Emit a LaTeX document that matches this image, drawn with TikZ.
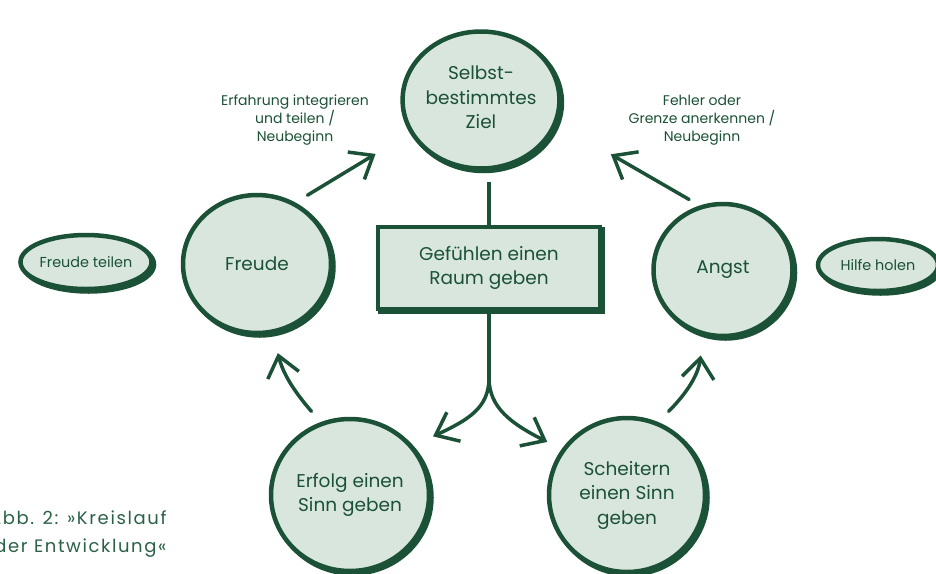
\documentclass[tikz,border=0pt]{standalone}
\usepackage{fontspec}
\setmainfont{Poppins}
\usetikzlibrary{arrows.meta,shapes.geometric}
\definecolor{Forest}{HTML}{1B5136}
\definecolor{Mint}{HTML}{D8E6DE}
\definecolor{Caption}{HTML}{2B6147}
\tikzset{
  brush/.style={draw=Forest,fill=Mint,line width=4.5,text=Forest,
    preaction={draw=Forest,line width=4.5,transform canvas={shift={(2.5,2.5)}}}},
  bubble/.style={ellipse,brush,align=center,inner sep=0pt,font=\fontsize{18.5}{24.5}\selectfont},
  pill/.style={ellipse,brush,inner sep=0pt,font=\fontsize{14.4}{16}\selectfont},
  flow/.style={Forest,line width=3.5,line cap=round,-{Straight Barb[length=20,width=32,line width=3.5]}},
  stem/.style={Forest,line width=3.5},
  note/.style={Forest,align=center,font=\fontsize{14}{18}\selectfont}
}
\begin{document}
\begin{tikzpicture}[x=1pt,y=-1pt]
  \useasboundingbox(0,0)rectangle(936,573);
  % centre and the two ways out
  \node[bubble,minimum width=134,minimum height=137](ziel)at(481,100){Selbst-\\bestimmtes\\Ziel\vphantom{g}};
  \node[rectangle,brush,minimum width=222,minimum height=82,align=center,
        font=\fontsize{18.5}{24}\selectfont](raum)at(489,268){Gefühlen einen\\Raum geben};
  \node[bubble,minimum width=148,minimum height=138](freude)at(257,264){Freude};
  \node[bubble,minimum width=139,minimum height=132](angst)at(723,270){Angst};
  \node[bubble,minimum width=158,minimum height=152](erfolg)at(350,495){Erfolg einen\\Sinn geben};
  \node[bubble,minimum width=156,minimum height=154](scheitern)at(627,495){Scheitern\\einen Sinn\\geben};
  \node[pill,minimum width=128,minimum height=54](teilen)at(86,262){Freude teilen};
  \node[pill,minimum width=120,minimum height=52](hilfe)at(878,265){Hilfe holen};
  % labels
  \node[note](erfahrung)at(295,120){Erfahrung integrieren\\und teilen /\\Neubeginn};
  \node[note](fehler)at(702,120){Fehler oder\\Grenze anerkennen /\\Neubeginn};
  \node[Caption,anchor=east,align=right,font=\fontsize{18}{28}\selectfont\addfontfeatures{LetterSpace=9}](abb)at(170,534){Abb. 2: »Kreislauf\\der Entwicklung«};
  % connectors
  \coordinate(fork)at(489,378);
  \draw[stem,shorten >=11](raum.north)--(raum.north|-ziel.south);
  \draw[stem](raum.south)--(fork);
  \draw[flow,shorten >=22](fork)..controls(489,408)and(468,420)..(erfolg.38);
  \draw[flow,shorten >=16](fork)..controls(489,408)and(512,424)..(scheitern.145);
  \draw[flow,shorten <=14,shorten >=40](freude.58)--(ziel.205);
  \draw[flow,shorten <=12,shorten >=62](angst.110)--(ziel.343);
  \draw[flow,shorten <=14,shorten >=20](erfolg.112)..controls(300,398)and(284,378)..(freude.283);
  \draw[flow,shorten <=15,shorten >=20](scheitern.67)..controls(682,398)and(698,378)..(angst.253);
\end{tikzpicture}
\end{document}
